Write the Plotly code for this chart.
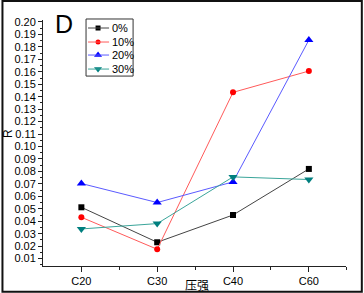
import plotly.graph_objects as go

categories = ["C20", "C30", "C40", "C60"]
series_names = ["0%", "10%", "20%", "30%"]
r_0 = [0.0512, 0.0231, 0.0450, 0.0820]
r_10 = [0.0432, 0.0175, 0.1435, 0.1606]
r_20 = [0.0703, 0.0550, 0.0716, 0.1855]
r_30 = [0.0338, 0.0381, 0.0756, 0.0735]
y_ticks = [round(0.01 * i, 2) for i in range(1, 21)]

series = [r_0, r_10, r_20, r_30]
line_colors = ["#444444", "#ff5a5a", "#5a5aff", "#3aa59a"]
marker_colors = ["#000000", "#ff0000", "#0000ff", "#007f7f"]
symbols = ["square", "circle", "triangle-up", "triangle-down"]
marker_sizes = [6, 6, 8, 8]

FONT = "Liberation Sans, Arial, sans-serif"

L, R, T, B = 43, 18.3, 20, 27.3
W, H = 364, 293
pw = W - L - R
ph = H - T - B


def px_x(x):
    return (x - L) / pw


def px_y(y):
    return (H - B - y) / ph


fig = go.Figure()
xs = list(range(len(categories)))
for name, vals, lc, mc, sym, ms in zip(series_names, series, line_colors, marker_colors, symbols, marker_sizes):
    fig.add_trace(go.Scatter(
        x=xs, y=vals, name=name, mode="lines+markers", showlegend=False,
        line=dict(color=lc, width=1),
        marker=dict(color=mc, symbol=sym, size=ms, line=dict(width=0)),
        cliponaxis=False,
    ))

# manual legend (pixel-coordinate overlay axes)
leg_rows = [28, 42, 55, 69]
shapes = []
annotations = []
for name, lc, mc, sym, ms, yy in zip(series_names, line_colors, marker_colors, symbols, marker_sizes, leg_rows):
    shapes.append(dict(type="line", xref="paper", yref="paper",
                       x0=px_x(88), x1=px_x(109), y0=px_y(yy), y1=px_y(yy),
                       line=dict(color=lc, width=1)))
    fig.add_trace(go.Scatter(
        x=[98], y=[yy], mode="markers", showlegend=False, xaxis="x2", yaxis="y2",
        marker=dict(color=mc, symbol=sym, size=ms - 1, line=dict(width=0)),
        cliponaxis=False, hoverinfo="skip",
    ))
    annotations.append(dict(text=name, x=px_x(110), y=px_y(yy), xref="paper", yref="paper",
                            xanchor="left", yanchor="middle", showarrow=False,
                            font=dict(size=11, family=FONT, color="black")))

shapes.append(dict(type="rect", xref="paper", yref="paper",
                   x0=px_x(86), x1=px_x(133), y0=px_y(76), y1=px_y(19),
                   line=dict(color="#333333", width=1), fillcolor="rgba(0,0,0,0)"))
shapes.append(dict(type="rect", xref="paper", yref="paper",
                   x0=px_x(2.5), x1=px_x(361.5), y0=px_y(291.5), y1=px_y(1),
                   line=dict(color="#111111", width=2), fillcolor="rgba(0,0,0,0)", layer="above"))

annotations += [
    dict(text="D", x=px_x(64), y=px_y(24), xref="paper", yref="paper",
         xanchor="center", yanchor="middle",
         showarrow=False, font=dict(size=25, family=FONT, color="black")),
    dict(text="R", x=px_x(8), y=px_y(133), xref="paper", yref="paper", textangle=-90,
         xanchor="center", yanchor="middle",
         showarrow=False, font=dict(size=12, family=FONT, color="black")),
    dict(text="压强", x=px_x(197), y=px_y(284), xref="paper", yref="paper",
         xanchor="center", yanchor="middle",
         showarrow=False, font=dict(size=12, family="Noto Sans CJK SC", color="black")),
]

fig.update_layout(
    width=W, height=H,
    margin=dict(l=L, r=R, t=T, b=B, pad=0, autoexpand=False),
    paper_bgcolor="white", plot_bgcolor="white",
    font=dict(family=FONT, size=11, color="black"),
    showlegend=False,
    xaxis=dict(
        range=[-0.506, 3.49], tickmode="array", tickvals=xs, ticktext=categories,
        showgrid=False, zeroline=False, showline=True, linecolor="#222222", linewidth=1,
        ticks="outside", ticklen=5, tickcolor="#222222", automargin=False,
        minor=dict(tickvals=[0.5, 1.5, 2.5, 3.49], ticks="outside", ticklen=3, tickcolor="#222222"),
        tickfont=dict(size=11),
    ),
    yaxis=dict(
        range=[0.00405, 0.2016], tickmode="array", tickvals=y_ticks,
        ticktext=[f"{v:.2f}" for v in y_ticks],
        showgrid=False, zeroline=False, showline=True, linecolor="#222222", linewidth=1,
        ticks="outside", ticklen=4, tickcolor="#222222", automargin=False,
        minor=dict(tickmode="linear", tick0=0.005, dtick=0.01, ticks="outside", ticklen=2, tickcolor="#222222"),
        tickfont=dict(size=11),
    ),
    xaxis2=dict(overlaying="x", range=[L, W - R], visible=False, fixedrange=True),
    yaxis2=dict(overlaying="y", range=[H - B, T], visible=False, fixedrange=True),
    annotations=annotations,
    shapes=shapes,
)

fig.write_html(
    "out.html",
    config={"displayModeBar": False, "staticPlot": True},
    post_script="document.body.style.margin='0';document.body.style.padding='0';document.body.style.overflow='hidden';",
)
